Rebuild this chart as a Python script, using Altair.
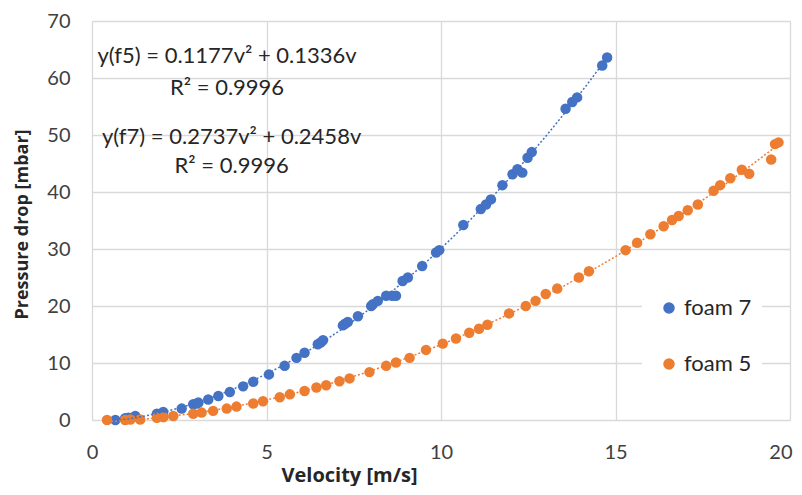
import altair as alt
import pandas as pd

# foam 7 (blue)
v7 = [0.67, 0.95, 1.05, 1.24, 1.86, 2.04, 2.57, 2.9, 3.0, 3.05, 3.33, 3.62, 3.95, 4.33, 4.62,
      5.07, 5.52, 5.86, 6.09, 6.47, 6.55, 6.62, 7.19, 7.25, 7.33, 7.62, 8.0, 8.05, 8.19, 8.43,
      8.6, 8.71, 8.9, 9.05, 9.46, 9.86, 9.95, 10.64, 11.14, 11.29, 11.43, 11.76, 12.05, 12.19,
      12.33, 12.48, 12.6, 13.57, 13.76, 13.9, 14.62, 14.76]
p7 = [0.0, 0.3, 0.4, 0.7, 1.1, 1.4, 2.0, 2.75, 2.9, 3.05, 3.6, 4.2, 4.9, 5.9, 6.7,
      8.0, 9.5, 10.9, 11.8, 13.3, 13.6, 14.0, 16.6, 16.9, 17.2, 18.2, 20.0, 20.3, 20.9, 21.8,
      21.8, 21.8, 24.4, 25.0, 27.0, 29.4, 29.8, 34.2, 37.0, 37.8, 38.7, 41.2, 43.1, 44.0,
      43.4, 46.0, 47.0, 54.6, 55.8, 56.6, 62.2, 63.6]

# foam 5 (orange)
v5 = [0.43, 0.95, 1.1, 1.38, 1.86, 2.05, 2.33, 2.9, 3.14, 3.47, 3.86, 4.14, 4.62, 4.9, 5.38,
      5.67, 6.09, 6.43, 6.71, 7.09, 7.38, 7.95, 8.43, 8.71, 9.1, 9.57, 10.05, 10.43, 10.81,
      11.09, 11.33, 11.95, 12.43, 12.71, 13.0, 13.33, 13.95, 14.24, 15.29, 15.62, 16.0, 16.38,
      16.62, 16.81, 17.07, 17.36, 17.81, 18.0, 18.29, 18.62, 18.83, 19.46, 19.57, 19.67]
p5 = [0.0, 0.0, 0.1, 0.1, 0.4, 0.5, 0.7, 1.1, 1.3, 1.6, 2.0, 2.35, 2.9, 3.3, 4.0,
      4.5, 5.1, 5.7, 6.1, 6.8, 7.3, 8.4, 9.5, 10.1, 10.9, 12.3, 13.4, 14.3, 15.3,
      16.0, 16.7, 18.7, 20.0, 20.9, 22.1, 23.05, 25.0, 26.1, 29.8, 31.1, 32.6, 34.0,
      35.1, 35.8, 36.8, 37.8, 40.2, 41.2, 42.4, 43.9, 43.2, 45.7, 48.4, 48.7]

series_names = ["foam 7", "foam 5"]
series_colors = ["#4472C4", "#ED7D31"]

ann_text = ["y(f5) = 0.1177v\u00b2 + 0.1336v", "R\u00b2 = 0.9996",
            "y(f7) = 0.2737v\u00b2 + 0.2458v", "R\u00b2 = 0.9996"]
ann_x = [3.87, 3.87, 4.0, 4.0]
ann_y = [63.8, 58.3, 49.7, 44.5]

df = pd.DataFrame({
    "v": v7 + v5,
    "p": p7 + p5,
    "series": ["foam 7"] * len(v7) + ["foam 5"] * len(v5),
})
ann = pd.DataFrame({"t": ann_text, "x": ann_x, "y": ann_y})

FONT = "Lato"
TFONT = "Open Sans"
legend = alt.Legend(title=None, orient="none", legendX=550, legendY=266,
                    fillColor="white", padding=10, rowPadding=34,
                    symbolType="circle", symbolSize=100,
                    labelFontSize=22, labelColor="#262626", labelFont=FONT,
                    labelOffset=4, symbolOffset=6)
color = alt.Color("series:N",
                  scale=alt.Scale(domain=series_names, range=series_colors),
                  sort=series_names, legend=legend)

xenc = alt.X("v:Q", scale=alt.Scale(domain=[0, 20], nice=False),
             axis=alt.Axis(values=[0, 5, 10, 15, 20], title="Velocity [m/s]", labelFlush=False,
                           labelAlign=alt.expr("datum.value == 20 ? 'right' : 'center'"),
                           labelOffset=alt.expr("datum.value == 20 ? 2 : 0"),
                           titleX=257, titleY=45, titleBaseline="top", titleAnchor="middle",
                           titleAlign="center", titleFontSize=20))
yenc = alt.Y("p:Q", scale=alt.Scale(domain=[0, 70], nice=False),
             axis=alt.Axis(values=[0, 10, 20, 30, 40, 50, 60, 70], title="Pressure drop [mbar]",
                           labelFlush=False,
                           titleX=-70, titleY=203, titleBaseline="middle", titleAnchor="middle",
                           titleAlign="center", titleFontSize=18))

points = alt.Chart(df).mark_circle(size=110, opacity=1).encode(
    x=xenc, y=yenc, color=color
)

trend = alt.Chart(df).transform_regression(
    "v", "p", method="poly", order=2, groupby=["series"]
).mark_line(strokeDash=[2, 2], strokeWidth=1.5).encode(
    x=xenc, y=yenc, color=color
)

text = alt.Chart(ann).mark_text(fontSize=22, font=FONT, color="#262626", align="center",
                                baseline="middle").encode(
    x=alt.X("x:Q"), y=alt.Y("y:Q"), text="t:N"
)

chart = alt.layer(points, trend, text).properties(
    width=698, height=399,
    autosize=alt.AutoSizeParams(type="none"),
    padding={"left": 84, "top": 13, "right": 4, "bottom": 66},
).configure_view(stroke=None).configure_axis(
    grid=True, gridColor="#d9d9d9", gridWidth=1.3, domain=False, ticks=False,
    labelFontSize=20, labelFont=FONT, labelColor="#404040", labelPadding=22,
    titleFont=TFONT, titleFontWeight="bold", titleColor="#262626"
)

chart.save("out.html", embed_options={"renderer": "svg", "actions": False})
